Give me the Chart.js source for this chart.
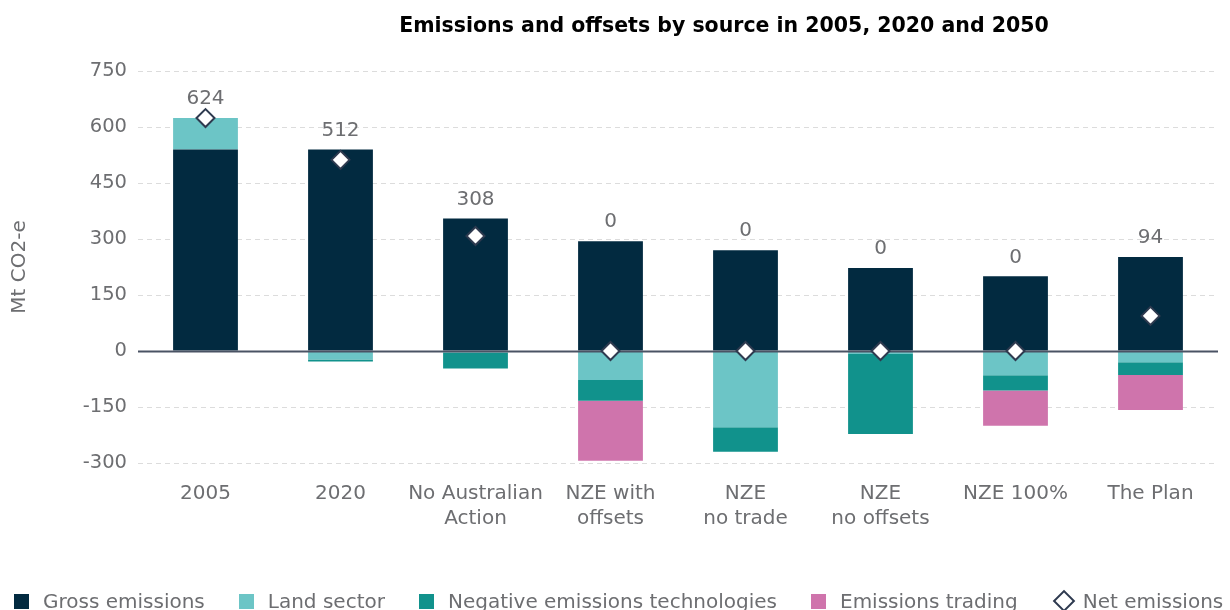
<!DOCTYPE html>
<html>
<head>
<meta charset="utf-8">
<script src="https://cdn.jsdelivr.net/npm/chart.js@4/dist/chart.umd.min.js"></script>
<style>
  html, body { margin: 0; padding: 0; background: #fff; }
  #wrap { position: relative; width: 1230px; height: 610px; overflow: hidden; }
  #chart { position: absolute; left: 0; top: 0; }
  #legend {
    position: absolute; left: 14px; top: 589px; white-space: nowrap;
    font-family: "DejaVu Sans", sans-serif; font-size: 20px; color: #6d6e71;
    display: flex; align-items: center;
  }
  .item { display: flex; align-items: center; margin-right: 34px; }
  .sw { width: 15px; height: 15px; margin-right: 14px; }
  .dia { width: 12px; height: 12px; border: 2px solid #2e3a4f; transform: rotate(45deg); margin: 0 11px 0 4px; background: #fff; }
</style>
</head>
<body>
<div id="wrap">
  <canvas id="chart" width="1230" height="610"></canvas>
  <div id="legend"></div>
</div>
<script>
const categories = ['2005', '2020', ['No Australian', 'Action'], ['NZE with', 'offsets'], ['NZE', 'no trade'], ['NZE', 'no offsets'], 'NZE 100%', 'The Plan']
const gross = [540, 540, 355, 294, 270, 222, 200, 252]
const land = [84, -23, -5, -78, -204, -8, -65, -30]
const negTech = [0, -5, -42, -55, -66, -214, -41, -34]
const trading = [0, 0, 0, -161, 0, 0, -94, -94]
const net = [624, 512, 308, 0, 0, 0, 0, 94]
const yTicks = [-300, -150, 0, 150, 300, 450, 600, 750]

const colors = {
  gross: '#022a40',
  land: '#6cc5c6',
  negTech: '#11928c',
  trading: '#cf74ac',
  net: '#2e3a4f'
}
const grey = '#6d6e71'
const font = '"DejaVu Sans", sans-serif'

// zero line goes over the bars but under the diamonds
const zeroLine = {
  id: 'zeroLine',
  afterDatasetDraw(chart, args) {
    if (args.index !== 1) return
    const ctx = chart.ctx
    const y = Math.round(chart.scales.y.getPixelForValue(0)) + 0.5
    ctx.save()
    ctx.strokeStyle = '#4a5364'
    ctx.lineWidth = 2
    ctx.beginPath()
    ctx.moveTo(chart.chartArea.left, y)
    ctx.lineTo(chart.chartArea.right, y)
    ctx.stroke()
    ctx.restore()
  }
}

const extras = {
  id: 'extras',
  afterDraw(chart) {
    const ctx = chart.ctx
    const x = chart.scales.x, y = chart.scales.y
    ctx.save()
    ctx.fillStyle = grey
    ctx.font = '20px ' + font
    ctx.textAlign = 'center'
    ctx.textBaseline = 'middle'
    net.forEach((v, i) => {
      const top = gross[i] + Math.max(land[i], 0)
      ctx.fillText(String(v), x.getPixelForValue(i), y.getPixelForValue(top) - 19)
    })
    ctx.fillStyle = '#000'
    ctx.font = 'bold 20.5px ' + font
    ctx.fillText('Emissions and offsets by source in 2005, 2020 and 2050', 724, 27)
    ctx.restore()
  }
}

new Chart(document.getElementById('chart').getContext('2d'), {
  type: 'bar',
  data: {
    labels: categories,
    datasets: [
      {
        type: 'line', label: 'Net emissions', data: net, showLine: false,
        pointStyle: 'rectRot', pointRadius: 9, pointBorderWidth: 2,
        pointBackgroundColor: '#fff', pointBorderColor: colors.net
      },
      { label: 'Gross emissions', data: gross, backgroundColor: colors.gross },
      { label: 'Land sector', data: land, backgroundColor: colors.land },
      { label: 'Negative emissions technologies', data: negTech, backgroundColor: colors.negTech },
      { label: 'Emissions trading', data: trading, backgroundColor: colors.trading }
    ]
  },
  options: {
    responsive: false,
    animation: false,
    events: [],
    datasets: { bar: { barPercentage: 0.48, categoryPercentage: 1 } },
    layout: { padding: { top: 71, right: 12, left: 0, bottom: 0 } },
    plugins: { legend: { display: false }, title: { display: false }, tooltip: { enabled: false } },
    scales: {
      x: {
        stacked: true,
        grid: { display: false, drawTicks: false },
        border: { display: false },
        ticks: { color: grey, font: { family: font, size: 20, lineHeight: 1.25 }, padding: 18, maxRotation: 0, autoSkip: false },
        afterFit(scale) { scale.height = 147 }
      },
      y: {
        stacked: true,
        min: -300, max: 750,
        afterBuildTicks(scale) { scale.ticks = yTicks.map(v => ({ value: v })) },
        grid: {
          drawTicks: false,
          color: ctx => ctx.tick && ctx.tick.value === 0 ? 'rgba(0,0,0,0)' : '#dcdcdc',
          lineWidth: 1
        },
        border: { display: false, dash: [5, 4] },
        ticks: { color: grey, font: { family: font, size: 19.5 }, padding: 11 },
        title: { display: true, text: 'Mt CO2-e', color: grey, font: { family: font, size: 20 }, padding: { top: 8, bottom: 0 } },
        afterFit(scale) { scale.width = 138 }
      }
    }
  },
  plugins: [zeroLine, extras]
})

// legend
const legendItems = [
  ['Gross emissions', colors.gross],
  ['Land sector', colors.land],
  ['Negative emissions technologies', colors.negTech],
  ['Emissions trading', colors.trading],
  ['Net emissions', null]
]
const legend = document.getElementById('legend')
legendItems.forEach(([text, c]) => {
  const item = document.createElement('div')
  item.className = 'item'
  const mark = document.createElement('div')
  if (c) { mark.className = 'sw'; mark.style.background = c } else { mark.className = 'dia' }
  item.appendChild(mark)
  item.appendChild(document.createTextNode(text))
  legend.appendChild(item)
})
</script>
</body>
</html>
